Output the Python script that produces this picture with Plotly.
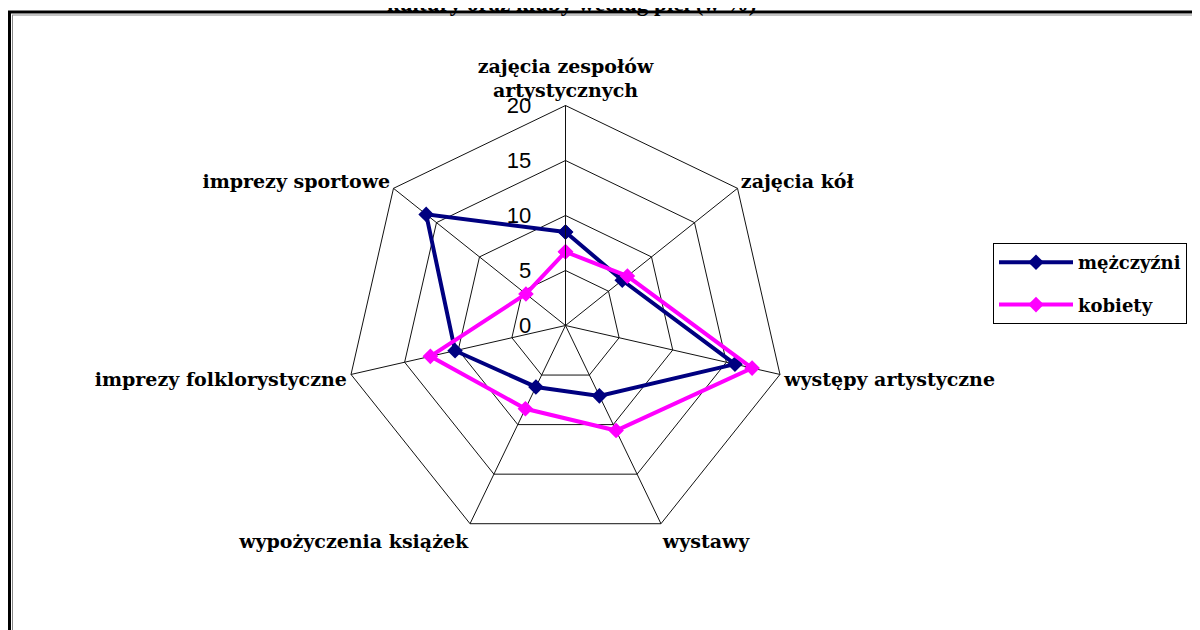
import plotly.graph_objects as go

categories = ["zajęcia zespołów artystycznych", "zajęcia kół", "występy artystyczne",
              "wystawy", "wypożyczenia książek", "imprezy folklorystyczne", "imprezy sportowe"]
tick_labels = ["zajęcia zespołów<br>artystycznych", "zajęcia kół", "występy artystyczne",
               "wystawy", "wypożyczenia książek", "imprezy folklorystyczne", "imprezy sportowe"]
mezczyzni = [8.5, 6.6, 15.8, 7.1, 6.2, 10.3, 16.2]
kobiety = [6.7, 7.2, 17.4, 10.6, 8.4, 12.6, 4.6]
radial_ticks = [0, 5, 10, 15, 20]

# strona ma 8 px marginesu, więc wykres jest o 8 px mniejszy
W, H = 1192, 622
cx, cy, R = 557.5, 317.5, 220

fig = go.Figure()
for name, vals, col in [("mężczyźni", mezczyzni, "#000080"), ("kobiety", kobiety, "#FF00FF")]:
    fig.add_trace(go.Scatterpolar(
        r=vals + vals[:1],
        theta=categories + categories[:1],
        name=name,
        legendgroup=name,
        mode="lines+markers",
        line=dict(color=col, width=4),
        marker=dict(symbol="diamond", size=12, color=col),
    ))

fig.update_layout(
    width=W, height=H,
    margin=dict(l=0, r=0, t=0, b=0),
    paper_bgcolor="white",
    polar=dict(
        domain=dict(x=[(cx - R) / W, (cx + R) / W], y=[(H - cy - R) / H, (H - cy + R) / H]),
        bgcolor="white",
        gridshape="linear",
        radialaxis=dict(
            range=[0, 20], tickvals=radial_ticks, angle=90, tickangle=90,
            side="counterclockwise",
            showline=True, linecolor="#111", linewidth=1,
            gridcolor="#111", gridwidth=1,
            ticks="outside", ticklen=26, tickcolor="rgba(0,0,0,0)",
            tickfont=dict(family="Liberation Sans, Arial", size=22, color="black"),
        ),
        angularaxis=dict(
            rotation=90, direction="clockwise",
            tickmode="array", tickvals=categories, ticktext=tick_labels,
            showline=True, linecolor="#111", linewidth=1,
            gridcolor="#111", gridwidth=1,
            ticks="",
            tickfont=dict(family="DejaVu Serif", size=19, color="black", weight="bold"),
        ),
    ),
    legend=dict(
        x=985 / W, y=(H - 235) / H, xanchor="left", yanchor="top",
        bgcolor="white", bordercolor="black", borderwidth=1,
        tracegroupgap=16, traceorder="grouped", itemwidth=74,
        entrywidth=120, entrywidthmode="pixels",
        font=dict(family="DejaVu Serif", size=18, color="black", weight="bold"),
    ),
    showlegend=True,
)

fig.add_annotation(
    text="kultury oraz kluby według płci (w %)",
    xref="paper", yref="paper", x=563 / W, y=1, yanchor="bottom", yshift=-10,
    showarrow=False,
    font=dict(family="Liberation Serif, Times New Roman", size=23, color="black", weight="bold"),
)

# ramka wokół wykresu
fig.add_shape(type="line", xref="paper", yref="paper", x0=0, x1=1, y0=1 - 4 / H, y1=1 - 4 / H,
              line=dict(color="black", width=3))
fig.add_shape(type="line", xref="paper", yref="paper", x0=4 / W, x1=1, y0=1 - 7 / H, y1=1 - 7 / H,
              line=dict(color="#888", width=1))
fig.add_shape(type="line", xref="paper", yref="paper", x0=1.5 / W, x1=1.5 / W, y0=0, y1=1 - 3 / H,
              line=dict(color="black", width=3))
fig.add_shape(type="line", xref="paper", yref="paper", x0=4.5 / W, x1=4.5 / W, y0=0, y1=1 - 7 / H,
              line=dict(color="#888", width=1))

fig.write_html("out.html")
